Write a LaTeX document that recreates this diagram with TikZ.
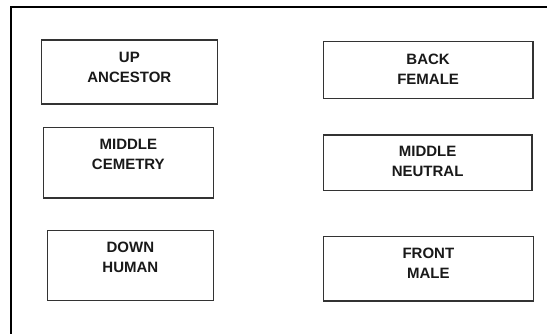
\documentclass[tikz,border=0pt]{standalone}
\usepackage{fontspec}
\setmainfont{Liberation Sans}
\begin{document}
\begin{tikzpicture}[x=1pt,y=1pt,
  boxst/.style={draw=black!80, line width=1.3pt, anchor=north west, inner sep=0pt},
  txt/.style={align=center, anchor=north, inner sep=0pt, font=\fontsize{15}{20}\selectfont\bfseries, text=black!90}]
\useasboundingbox (0,0) rectangle (547,333);
\fill[white] (0,0) rectangle (547,333);
\begin{scope}
\clip (0,0) rectangle (547,333);
\draw[line width=2.2pt, black] (11,326) rectangle (570,-30);
\end{scope}
% left column
\node[boxst, minimum width=176pt, minimum height=64pt] (b1) at (40.7,293.7) {};
\node[txt] (t1) at ([yshift=-13pt]b1.north) {UP\\ANCESTOR};
\node[boxst, minimum width=170pt, minimum height=70.6pt] (b3) at (42.7,206.3) {};
\node[txt] (t3) at ([yshift=-12.5pt]b3.north) {MIDDLE\\CEMETRY};
\node[boxst, minimum width=166pt, minimum height=70pt] (b5) at (46.7,103) {};
\node[txt] (t5) at ([yshift=-12.2pt]b5.north) {DOWN\\HUMAN};
% right column
\node[boxst, minimum width=209.6pt, minimum height=56.5pt] (b2) at (322.7,292) {};
\node[txt] (t2) at ([yshift=-12.5pt]b2.north) {BACK\\FEMALE};
\node[boxst, minimum width=208.5pt, minimum height=55.7pt] (b4) at (322.7,198.7) {};
\node[txt] (t4) at ([yshift=-11.5pt]b4.north) {MIDDLE\\NEUTRAL};
\node[boxst, minimum width=210pt, minimum height=64.5pt] (b6) at (322.7,97.3) {};
\node[txt] (t6) at ([yshift=-12pt]b6.north) {FRONT\\MALE};
\end{tikzpicture}
\end{document}
